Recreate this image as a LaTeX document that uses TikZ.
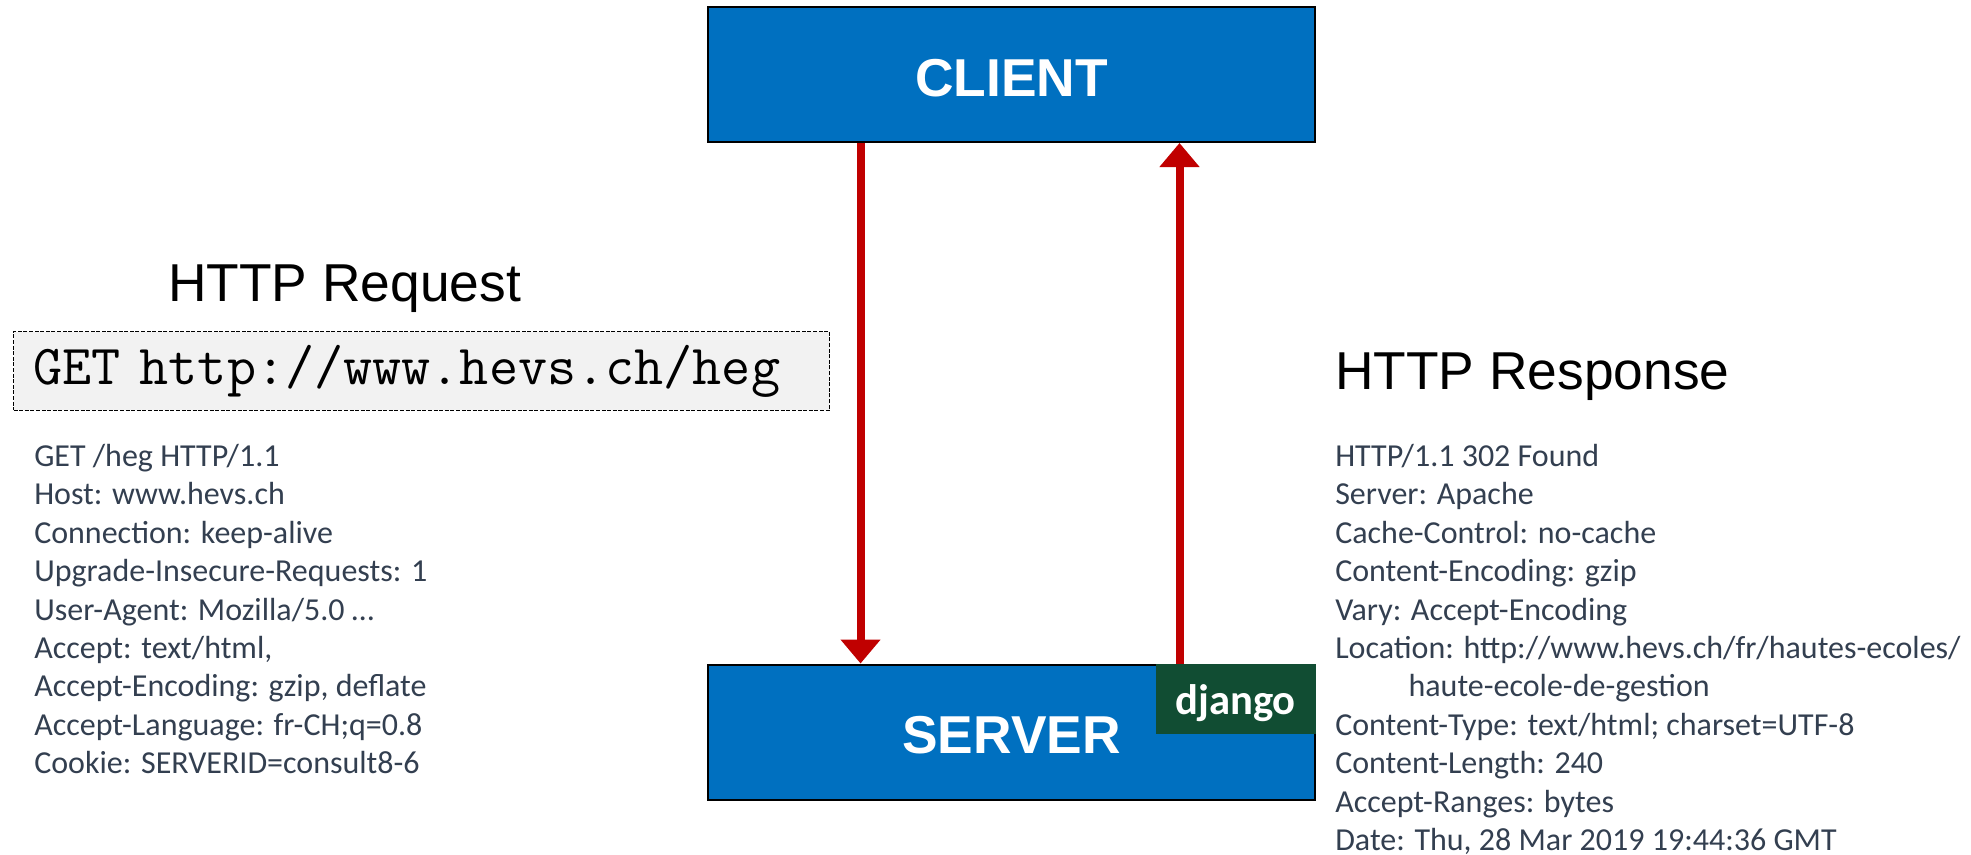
\documentclass[tikz,border=0pt]{standalone}
\usepackage{fontspec}
\setmainfont{Liberation Sans}
\newfontfamily\bodyfont{Carlito}
\usetikzlibrary{arrows.meta,calc}
\definecolor{hostblue}{HTML}{0070C0}
\definecolor{djangogreen}{HTML}{114D33}
\definecolor{flowred}{HTML}{C00000}
\definecolor{slate}{HTML}{333F50}
\definecolor{urlgray}{HTML}{F2F2F2}
\tikzset{host/.style = {shape=rectangle,draw=black,line width=1.5pt,fill=hostblue,text=white,minimum width=455pt,text height=66.75pt,text depth=34.5pt,inner sep=0pt,font=\fontsize{40}{40}\selectfont\bfseries}}
\tikzset{flow/.style = {-{Triangle[length=18pt,width=29pt]},line width=6pt,draw=flowred}}
\tikzset{title/.style = {anchor=base west,inner sep=0pt,font=\fontsize{40}{40}\selectfont}}
\tikzset{headers/.style = {anchor=north west,inner sep=0pt,align=left,text=slate,font=\bodyfont\fontsize{24}{28.8}\selectfont}}

\begin{document}
\begin{tikzpicture}[x=0.75pt,y=-0.75pt]
		\useasboundingbox (0,0) rectangle (1971,854);
		
		% hosts
		\node[host] (client) at (1011.5,74.5) {CLIENT};
		\node[host] (server) at (1011.5,732) {SERVER};
		\node[anchor=north east,fill=djangogreen,text=white,minimum width=120pt,text height=38pt,text depth=14.5pt,inner sep=0pt,font=\bodyfont\fontsize{32}{32}\selectfont\bfseries] (django) at (server.north east) {django};
		
		% titles
		\node[title] (reqtitle) at (168,301) {HTTP Request};
		\node[title] (resptitle) at (1335,389) {HTTP Response};
		
		% url
		\node[anchor=north west,draw=black,dash pattern=on 3pt off 1.2pt,line width=0.8pt,fill=urlgray,text height=39.75pt,text depth=19.25pt,text width=582pt,inner xsep=15pt,inner ysep=0pt,align=left,font=\ttfamily\fontsize{42.4}{42.4}\selectfont] (url) at (13,331) {GET http://www.hevs.ch/heg};
		
		% headers
		\node[headers] (reqhead) at (34,444) {GET /heg HTTP/1.1\\
			Host: www.hevs.ch\\
			Connection: keep-alive\\
			Upgrade-Insecure-Requests: 1\\
			User-Agent: Mozilla/5.0 …\\
			Accept: text/html,\\
			Accept-Encoding: gzip, deflate\\
			Accept-Language: fr-CH;q=0.8\\
			Cookie: SERVERID=consult8-6};
		\node[headers] (resphead) at (1335,444) {HTTP/1.1 302 Found\\
			Server: Apache\\
			Cache-Control: no-cache\\
			Content-Encoding: gzip\\
			Vary: Accept-Encoding\\
			Location: http://www.hevs.ch/fr/hautes-ecoles/\\
			\hspace*{55pt}haute-ecole-de-gestion\\
			Content-Type: text/html; charset=UTF-8\\
			Content-Length: 240\\
			Accept-Ranges: bytes\\
			Date: Thu, 28 Mar 2019 19:44:36 GMT};
		
		% arrows
		\draw[flow] ($(client.south west)!0.252!(client.south east)$) to ($(server.north west)!0.252!(server.north east)$);
		\draw[flow] ($(server.north west)!0.776!(server.north east)$) to ($(client.south west)!0.776!(client.south east)$);
	\end{tikzpicture}
\end{document}
